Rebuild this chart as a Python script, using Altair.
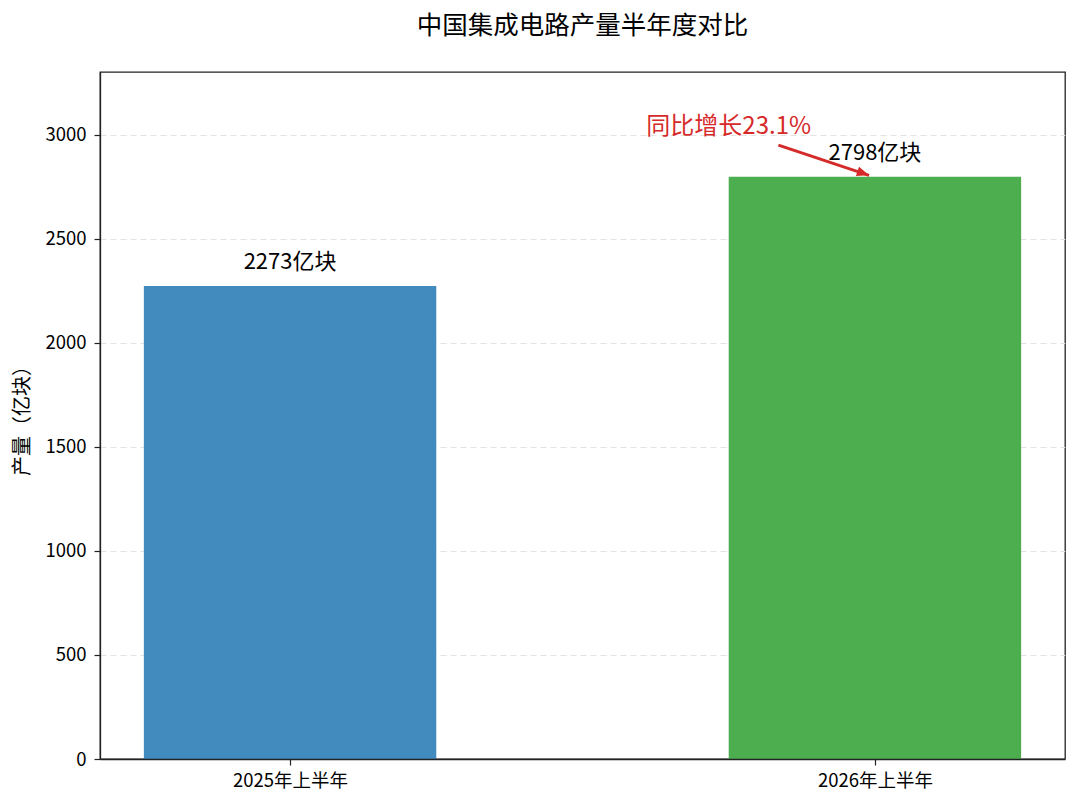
import altair as alt
import pandas as pd

# ---- data ----
periods = ["2025年上半年", "2026年上半年"]
positions = [0, 1]
output_values = [2273, 2798]
bar_colors = ["#428BBF", "#4CAE4F"]
bar_half_width = 0.25
y_ticks = [0, 500, 1000, 1500, 2000, 2500, 3000]

growth_pct = (output_values[1] / output_values[0] - 1) * 100
annotation_text = [f"同比增长{growth_pct:.1f}%"]
annotation_x = [0.75]
annotation_y = [3000]
arrow_start_x = [0.835]
arrow_start_y = [2950]
arrow_end_x = [0.99]
arrow_end_y = [2805]

FONT = "Noto Sans CJK SC"
RED = "#D62A2A"
FRAME = "#222222"

bars_df = pd.DataFrame({
    "period": periods,
    "pos": positions,
    "value": output_values,
    "color": bar_colors,
})
bars_df["x0"] = bars_df["pos"] - bar_half_width
bars_df["x1"] = bars_df["pos"] + bar_half_width
bars_df["label"] = [f"{v}亿块" for v in output_values]

ann_df = pd.DataFrame({"x": annotation_x, "y": annotation_y, "text": annotation_text})
arrow_df = pd.DataFrame({
    "x": arrow_start_x, "y": arrow_start_y,
    "x2": arrow_end_x, "y2": arrow_end_y,
})

x_min = min(positions) - bar_half_width
x_max = max(positions) + bar_half_width
x_margin = (x_max - x_min) * 0.05
x_scale = alt.Scale(domain=[x_min - x_margin, x_max + x_margin], nice=False, zero=False)
y_scale = alt.Scale(domain=[0, max(output_values) * 1.18], nice=False)

label_expr = " : ".join(
    [f"datum.value == {p} ? '{n}'" for p, n in zip(positions, periods)]
) + " : ''"

x_axis = alt.Axis(
    values=positions, labelExpr=label_expr, title=None, grid=False,
    domain=True, domainColor=FRAME, domainWidth=1.3,
    tickSize=6, tickColor=FRAME, tickWidth=1.2, labelPadding=6,
    labelFont=FONT, labelFontSize=18.5, labelColor="#000000", zindex=1,
)
y_axis = alt.Axis(
    values=y_ticks, format="d", title="产量（亿块）", grid=True, gridColor="#E3E3E3",
    gridDash=[6, 4], gridWidth=1,
    domain=True, domainColor=FRAME, domainWidth=1.3,
    tickSize=6, tickColor=FRAME, tickWidth=1.2, labelPadding=8,
    labelFont=FONT, labelFontSize=18.5, labelColor="#000000",
    titleFont=FONT, titleFontSize=20, titleFontWeight="normal", titleColor="#000000",
    titlePadding=12, zindex=0,
)

bars = alt.Chart(bars_df).mark_rect().encode(
    x=alt.X("x0:Q", scale=x_scale, axis=x_axis),
    x2="x1:Q",
    y=alt.Y("value:Q", scale=y_scale, axis=y_axis),
    y2=alt.datum(0),
    color=alt.Color("color:N", scale=None),
)

labels = alt.Chart(bars_df).mark_text(
    font=FONT, fontSize=22, baseline="alphabetic", align="center", dy=-17, color="#000000"
).encode(
    x=alt.X("pos:Q", scale=x_scale),
    y=alt.Y("value:Q", scale=y_scale),
    text="label:N",
)

ann = alt.Chart(ann_df).mark_text(
    font=FONT, fontSize=24, baseline="alphabetic", align="center", dy=-1, color=RED
).encode(
    x=alt.X("x:Q", scale=x_scale),
    y=alt.Y("y:Q", scale=y_scale),
    text="text:N",
)

arrow_line = alt.Chart(arrow_df).mark_rule(color=RED, strokeWidth=3).encode(
    x=alt.X("x:Q", scale=x_scale),
    y=alt.Y("y:Q", scale=y_scale),
    x2="x2:Q",
    y2="y2:Q",
)

arrow_head = alt.Chart(arrow_df).mark_point(
    shape="M0,0L-2,-0.8L-2,0.8Z", filled=True, size=150, angle=18.6,
    color=RED, opacity=1, strokeWidth=0,
).encode(
    x=alt.X("x2:Q", scale=x_scale),
    y=alt.Y("y2:Q", scale=y_scale),
)

chart = alt.layer(bars, labels, arrow_line, arrow_head, ann).properties(
    width=965,
    height=687,
    title=alt.TitleParams(
        "中国集成电路产量半年度对比", font=FONT, fontSize=25.5, fontWeight="normal",
        color="#000000", anchor="middle", frame="group", offset=33,
    ),
    autosize=alt.AutoSizeParams(type="none"),
    padding={"left": 92, "top": 64, "right": 7, "bottom": 39},
).configure(
    background="white"
).configure_view(
    stroke=FRAME, strokeWidth=1.3
)

chart.save("out.html", embed_options={"renderer": "svg", "actions": False})
